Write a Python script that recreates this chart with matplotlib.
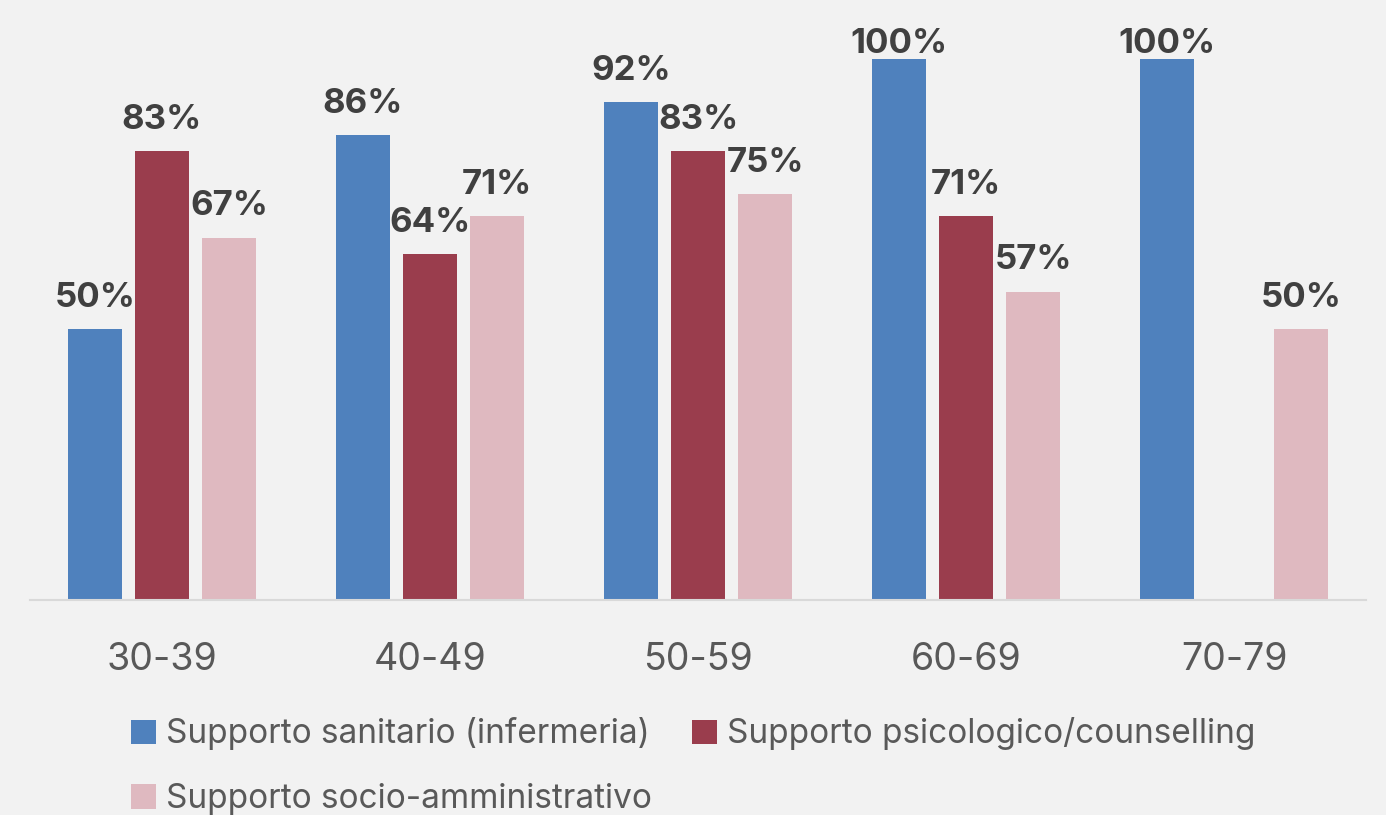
import matplotlib
matplotlib.use('Agg')
import matplotlib.pyplot as plt
import numpy as np

# dati
categories = ['30-39', '40-49', '50-59', '60-69', '70-79']
series_names = ['Supporto sanitario (infermeria)',
                'Supporto psicologico/counselling',
                'Supporto socio-amministrativo']
sanitario = [50, 86, 92, 100, 100]
psicologico = [83, 64, 83, 71, np.nan]
socio = [67, 71, 75, 57, 50]
colors = ['#4F81BD', '#9A3D4D', '#DFB9C0']

plt.rcParams['font.family'] = ['Inter', 'DejaVu Sans']

fig = plt.figure(figsize=(13.86, 8.15), dpi=100, facecolor='#F2F2F2')
ax = fig.add_axes([30/1386, 1 - 600/815, 1336/1386, 541/815])
ax.set_facecolor('#F2F2F2')

x = np.arange(len(categories))
w = 0.198
offsets = [-0.25, 0, 0.25]
handles = []
for vals, off, col, name in zip([sanitario, psicologico, socio], offsets, colors, series_names):
    vals = np.array(vals, dtype=float)
    bars = ax.bar(x + off, np.nan_to_num(vals), width=w, color=col, label=name)
    handles.append(bars)
    for xi, v in zip(x + off, vals):
        if np.isnan(v):
            continue
        ax.text(xi, min(v + 4.1, 101.2), f'{v:.0f}%', ha='center', va='baseline',
                fontsize=25, fontweight='bold', color='#404040', clip_on=False)

ax.set_xlim(-0.4925, 4.4925)
ax.set_ylim(0, 100)
ax.set_yticks([])
ax.set_xticks(x)
ax.set_xticklabels(categories, fontsize=27, color='#595959')
ax.tick_params(axis='x', length=0, pad=30)
for s in ['top', 'right', 'left']:
    ax.spines[s].set_visible(False)
ax.spines['bottom'].set_color('#D9D9D9')
ax.spines['bottom'].set_linewidth(1.5)

# ordine per riempire le righe: sanitario, psicologico / socio
order = [0, 2, 1]
leg = fig.legend([handles[i] for i in order], [series_names[i] for i in order],
                 loc='upper left', bbox_to_anchor=(118/1386, 1 - 704/815), ncol=2,
                 frameon=False, fontsize=24, labelcolor='#595959',
                 handlelength=0.75, handleheight=0.75, handletextpad=0.3,
                 columnspacing=1.2, labelspacing=0.98, borderaxespad=0)

fig.savefig('out.png', dpi=100, facecolor=fig.get_facecolor())
